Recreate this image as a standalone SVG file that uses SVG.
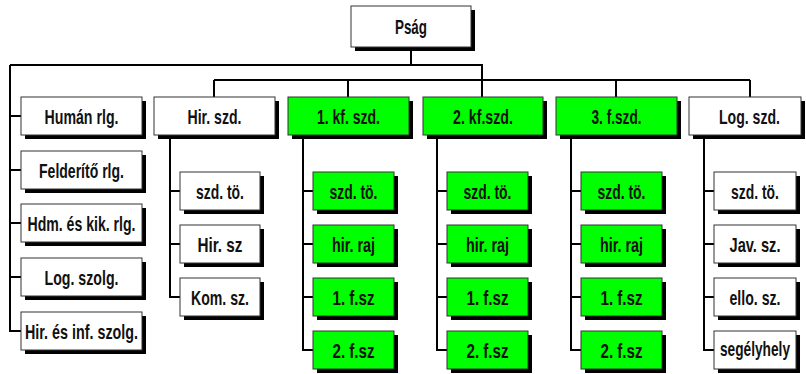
<svg xmlns="http://www.w3.org/2000/svg" width="806" height="374" viewBox="0 0 806 374">
<style>
.sh{fill:#000}
.w{fill:#fff;stroke:#333;stroke-width:1}
.g{fill:#00ff00;stroke:#333;stroke-width:1}
.t{font-family:"Liberation Sans",Arial,sans-serif;font-weight:bold;font-size:21px;fill:#111;text-anchor:middle}
.c{fill:none;stroke:#000;stroke-width:2}
</style>
<rect width="806" height="374" fill="#fff"/>
<g id="connectors" class="c">
<path d="M411 47V65M10 65H482V97M10 65V331H21M10 116H21M10 170H21M10 223H21M10 277H21"/>
<path d="M214 80H750M214 80V97M348 80V97M616 80V97M750 80V97"/>
<path d="M170 135V297H180M170 191H180M170 244H180"/>
<path d="M303 135V350H313M303 191H313M303 244H313M303 297H313"/>
<path d="M437 135V350H447M437 191H447M437 244H447M437 297H447"/>
<path d="M571 135V350H581M571 191H581M571 244H581M571 297H581"/>
<path d="M704 135V350H714M704 191H714M704 244H714M704 297H714"/>
</g>
<g id="psag"><rect class="sh" x="355" y="10" width="120" height="41"/><rect class="w" x="351" y="6" width="120" height="41"/><text class="t" x="411" y="34" textLength="32" lengthAdjust="spacingAndGlyphs">Pság</text></g>

<g id="human"><rect class="sh" x="25" y="101" width="121" height="38"/><rect class="w" x="21" y="97" width="121" height="38"/><text class="t" x="81.5" y="123.5" textLength="74" lengthAdjust="spacingAndGlyphs">Humán rlg.</text></g>
<g id="felderito"><rect class="sh" x="25" y="155" width="121" height="38"/><rect class="w" x="21" y="151" width="121" height="38"/><text class="t" x="81.5" y="177.5" textLength="85" lengthAdjust="spacingAndGlyphs">Felderítő rlg.</text></g>
<g id="hdm"><rect class="sh" x="25" y="208" width="121" height="38"/><rect class="w" x="21" y="204" width="121" height="38"/><text class="t" x="81.5" y="230.5" textLength="108" lengthAdjust="spacingAndGlyphs">Hdm. és kik. rlg.</text></g>
<g id="logszolg"><rect class="sh" x="25" y="262" width="121" height="38"/><rect class="w" x="21" y="258" width="121" height="38"/><text class="t" x="81.5" y="284.5" textLength="74" lengthAdjust="spacingAndGlyphs">Log. szolg.</text></g>
<g id="hirinf"><rect class="sh" x="25" y="316" width="121" height="38"/><rect class="w" x="21" y="312" width="121" height="38"/><text class="t" x="81.5" y="338.5" textLength="113" lengthAdjust="spacingAndGlyphs">Hir. és inf. szolg.</text></g>

<g id="hirszd"><rect class="sh" x="158" y="101" width="121" height="38"/><rect class="w" x="154" y="97" width="121" height="38"/><text class="t" x="214.5" y="123.5" textLength="54" lengthAdjust="spacingAndGlyphs">Hir. szd.</text></g>
<g id="kf1"><rect class="sh" x="292" y="101" width="121" height="38"/><rect class="g" x="288" y="97" width="121" height="38"/><text class="t" x="348.5" y="123.5" textLength="63" lengthAdjust="spacingAndGlyphs">1. kf. szd.</text></g>
<g id="kf2"><rect class="sh" x="427" y="101" width="120" height="38"/><rect class="g" x="423" y="97" width="120" height="38"/><text class="t" x="483" y="123.5" textLength="60" lengthAdjust="spacingAndGlyphs">2. kf.szd.</text></g>
<g id="f3"><rect class="sh" x="560" y="101" width="121" height="38"/><rect class="g" x="556" y="97" width="121" height="38"/><text class="t" x="616.5" y="123.5" textLength="50" lengthAdjust="spacingAndGlyphs">3. f.szd.</text></g>
<g id="logszd"><rect class="sh" x="693" y="101" width="112" height="38"/><rect class="w" x="689" y="97" width="112" height="38"/><text class="t" x="749.5" y="123.5" textLength="61" lengthAdjust="spacingAndGlyphs">Log. szd.</text></g>

<g id="hir-szdto"><rect class="sh" x="184" y="176" width="80" height="38"/><rect class="w" x="180" y="172" width="80" height="38"/><text class="t" x="220" y="198.5" textLength="48" lengthAdjust="spacingAndGlyphs">szd. tö.</text></g>
<g id="hir-hirsz"><rect class="sh" x="184" y="229" width="80" height="38"/><rect class="w" x="180" y="225" width="80" height="38"/><text class="t" x="220" y="251.5" textLength="45" lengthAdjust="spacingAndGlyphs">Hir. sz</text></g>
<g id="hir-komsz"><rect class="sh" x="184" y="282" width="80" height="38"/><rect class="w" x="180" y="278" width="80" height="38"/><text class="t" x="220" y="304.5" textLength="58" lengthAdjust="spacingAndGlyphs">Kom. sz.</text></g>

<g id="kf1-szdto"><rect class="sh" x="317" y="176" width="81" height="38"/><rect class="g" x="313" y="172" width="81" height="38"/><text class="t" x="353.5" y="198.5" textLength="48" lengthAdjust="spacingAndGlyphs">szd. tö.</text></g>
<g id="kf1-hirraj"><rect class="sh" x="317" y="229" width="81" height="38"/><rect class="g" x="313" y="225" width="81" height="38"/><text class="t" x="353.5" y="251.5" textLength="43" lengthAdjust="spacingAndGlyphs">hir. raj</text></g>
<g id="kf1-1fsz"><rect class="sh" x="317" y="282" width="81" height="38"/><rect class="g" x="313" y="278" width="81" height="38"/><text class="t" x="353.5" y="304.5" textLength="42" lengthAdjust="spacingAndGlyphs">1. f.sz</text></g>
<g id="kf1-2fsz"><rect class="sh" x="317" y="335" width="81" height="38"/><rect class="g" x="313" y="331" width="81" height="38"/><text class="t" x="353.5" y="357.5" textLength="42" lengthAdjust="spacingAndGlyphs">2. f.sz</text></g>

<g id="kf2-szdto"><rect class="sh" x="451" y="176" width="81" height="38"/><rect class="g" x="447" y="172" width="81" height="38"/><text class="t" x="487.5" y="198.5" textLength="48" lengthAdjust="spacingAndGlyphs">szd. tö.</text></g>
<g id="kf2-hirraj"><rect class="sh" x="451" y="229" width="81" height="38"/><rect class="g" x="447" y="225" width="81" height="38"/><text class="t" x="487.5" y="251.5" textLength="43" lengthAdjust="spacingAndGlyphs">hir. raj</text></g>
<g id="kf2-1fsz"><rect class="sh" x="451" y="282" width="81" height="38"/><rect class="g" x="447" y="278" width="81" height="38"/><text class="t" x="487.5" y="304.5" textLength="42" lengthAdjust="spacingAndGlyphs">1. f.sz</text></g>
<g id="kf2-2fsz"><rect class="sh" x="451" y="335" width="81" height="38"/><rect class="g" x="447" y="331" width="81" height="38"/><text class="t" x="487.5" y="357.5" textLength="42" lengthAdjust="spacingAndGlyphs">2. f.sz</text></g>

<g id="f3-szdto"><rect class="sh" x="585" y="176" width="81" height="38"/><rect class="g" x="581" y="172" width="81" height="38"/><text class="t" x="621.5" y="198.5" textLength="48" lengthAdjust="spacingAndGlyphs">szd. tö.</text></g>
<g id="f3-hirraj"><rect class="sh" x="585" y="229" width="81" height="38"/><rect class="g" x="581" y="225" width="81" height="38"/><text class="t" x="621.5" y="251.5" textLength="43" lengthAdjust="spacingAndGlyphs">hir. raj</text></g>
<g id="f3-1fsz"><rect class="sh" x="585" y="282" width="81" height="38"/><rect class="g" x="581" y="278" width="81" height="38"/><text class="t" x="621.5" y="304.5" textLength="42" lengthAdjust="spacingAndGlyphs">1. f.sz</text></g>
<g id="f3-2fsz"><rect class="sh" x="585" y="335" width="81" height="38"/><rect class="g" x="581" y="331" width="81" height="38"/><text class="t" x="621.5" y="357.5" textLength="42" lengthAdjust="spacingAndGlyphs">2. f.sz</text></g>

<g id="log-szdto"><rect class="sh" x="718" y="176" width="82" height="38"/><rect class="w" x="714" y="172" width="82" height="38"/><text class="t" x="755" y="198.5" textLength="48" lengthAdjust="spacingAndGlyphs">szd. tö.</text></g>
<g id="log-javsz"><rect class="sh" x="718" y="229" width="82" height="38"/><rect class="w" x="714" y="225" width="82" height="38"/><text class="t" x="755" y="251.5" textLength="51" lengthAdjust="spacingAndGlyphs">Jav. sz.</text></g>
<g id="log-ellosz"><rect class="sh" x="718" y="282" width="82" height="38"/><rect class="w" x="714" y="278" width="82" height="38"/><text class="t" x="755" y="304.5" textLength="51" lengthAdjust="spacingAndGlyphs">ello. sz.</text></g>
<g id="log-segely"><rect class="sh" x="718" y="335" width="82" height="38"/><rect class="w" x="714" y="331" width="82" height="38"/><text class="t" x="755" y="356" font-size="20" textLength="70" lengthAdjust="spacingAndGlyphs">segélyhely</text></g>
</svg>
